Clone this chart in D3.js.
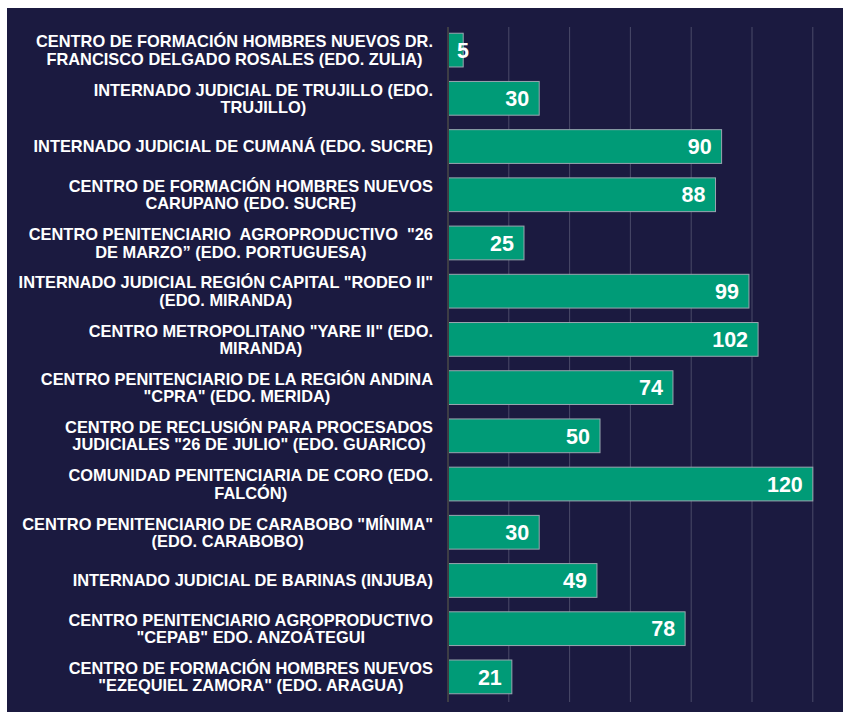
<!DOCTYPE html>
<html lang="es">
  <head>
    <meta charset="UTF-8" />
    <title>Centros penitenciarios</title>
    <script src="https://d3js.org/d3.v7.min.js"></script>
    <style>
      body {
        margin: 0;
        background-color: #ffffff;
        font-family: "Liberation Sans", Arial, sans-serif;
      }
      .cat-label {
        fill: #ffffff;
        font-weight: bold;
        font-size: 16.4px;
        white-space: pre;
      }
      .value-label {
        fill: #ffffff;
        font-weight: bold;
        font-size: 21.5px;
        text-anchor: end;
      }
    </style>
  </head>
  <body>
    <div id="chart"></div>
    <script>
      // Categories (line breaks as in the original labels)
      const categories = [
        "CENTRO DE FORMACIÓN HOMBRES NUEVOS DR.\nFRANCISCO DELGADO ROSALES (EDO. ZULIA)",
        "INTERNADO JUDICIAL DE TRUJILLO (EDO.\nTRUJILLO)",
        "INTERNADO JUDICIAL DE CUMANÁ (EDO. SUCRE)",
        "CENTRO DE FORMACIÓN HOMBRES NUEVOS\nCARUPANO (EDO. SUCRE)",
        "CENTRO PENITENCIARIO  AGROPRODUCTIVO  \"26\nDE MARZO” (EDO. PORTUGUESA)",
        "INTERNADO JUDICIAL REGIÓN CAPITAL \"RODEO II\"\n(EDO. MIRANDA)",
        "CENTRO METROPOLITANO \"YARE II\" (EDO.\nMIRANDA)",
        "CENTRO PENITENCIARIO DE LA REGIÓN ANDINA\n\"CPRA\" (EDO. MERIDA)",
        "CENTRO DE RECLUSIÓN PARA PROCESADOS\nJUDICIALES \"26 DE JULIO\" (EDO. GUARICO)",
        "COMUNIDAD PENITENCIARIA DE CORO (EDO.\nFALCÓN)",
        "CENTRO PENITENCIARIO DE CARABOBO \"MÍNIMA\"\n(EDO. CARABOBO)",
        "INTERNADO JUDICIAL DE BARINAS (INJUBA)",
        "CENTRO PENITENCIARIO AGROPRODUCTIVO\n\"CEPAB\" EDO. ANZOÁTEGUI",
        "CENTRO DE FORMACIÓN HOMBRES NUEVOS\n\"EZEQUIEL ZAMORA\" (EDO. ARAGUA)",
      ];

      const values = [5, 30, 90, 88, 25, 99, 102, 74, 50, 120, 30, 49, 78, 21];

      const gridTicks = [20, 40, 60, 80, 100, 120, 140];

      const W = 843,
        H = 712;

      const svg = d3
        .select("#chart")
        .append("svg")
        .attr("width", W)
        .attr("height", H)
        .style("display", "block");

      // dark panel
      svg
        .append("rect")
        .attr("x", 7)
        .attr("y", 8)
        .attr("width", W - 7)
        .attr("height", H - 8)
        .attr("fill", "#1b1a40");

      const x = d3.scaleLinear().domain([0, 140]).range([448, 873.6]);

      const y = d3
        .scaleBand()
        .domain(d3.range(categories.length))
        .range([26, 701])
        .paddingInner(0.3)
        .paddingOuter(0.15);

      // gridlines
      svg
        .append("g")
        .selectAll("line")
        .data(gridTicks)
        .enter()
        .append("line")
        .attr("x1", (d) => x(d))
        .attr("x2", (d) => x(d))
        .attr("y1", 27)
        .attr("y2", 702)
        .attr("stroke", "#4a4a68")
        .attr("stroke-width", 1);

      // bars
      svg
        .append("g")
        .selectAll("rect")
        .data(values)
        .enter()
        .append("rect")
        .attr("x", x(0))
        .attr("y", (d, i) => y(i))
        .attr("width", (d) => x(d) - x(0))
        .attr("height", y.bandwidth())
        .attr("fill", "#009b77")
        .attr("stroke", "#9aa6b0")
        .attr("stroke-width", 1);

      // axis line
      svg
        .append("line")
        .attr("x1", x(0))
        .attr("x2", x(0))
        .attr("y1", 27)
        .attr("y2", 702)
        .attr("stroke", "#3d3d45")
        .attr("stroke-width", 2);

      // value labels, inside end (pushed out when the bar is too short)
      svg
        .append("g")
        .selectAll("text")
        .data(values)
        .enter()
        .append("text")
        .attr("class", "value-label")
        .attr("x", (d) => Math.max(x(d) - 10, x(0) + 21))
        .attr("y", (d, i) => y(i) + y.bandwidth() / 2)
        .attr("dy", "0.36em")
        .text((d) => d);

      // category labels: lines centred on each other, block right edge at 433
      const labelRight = 433,
        lineH = 17.3;

      categories.forEach((c, i) => {
        const lines = c.split("\n");
        const g = svg.append("g");
        const texts = lines.map((l, j) =>
          g
            .append("text")
            .attr("class", "cat-label")
            .attr("text-anchor", "middle")
            .attr(
              "y",
              y(i) + y.bandwidth() / 2 + (j - (lines.length - 1) / 2) * lineH
            )
            .attr("dy", "0.36em")
            .text(l)
        );
        const maxW = d3.max(texts, (t) => t.node().getComputedTextLength());
        texts.forEach((t) => t.attr("x", labelRight - maxW / 2));
      });
    </script>
  </body>
</html>
